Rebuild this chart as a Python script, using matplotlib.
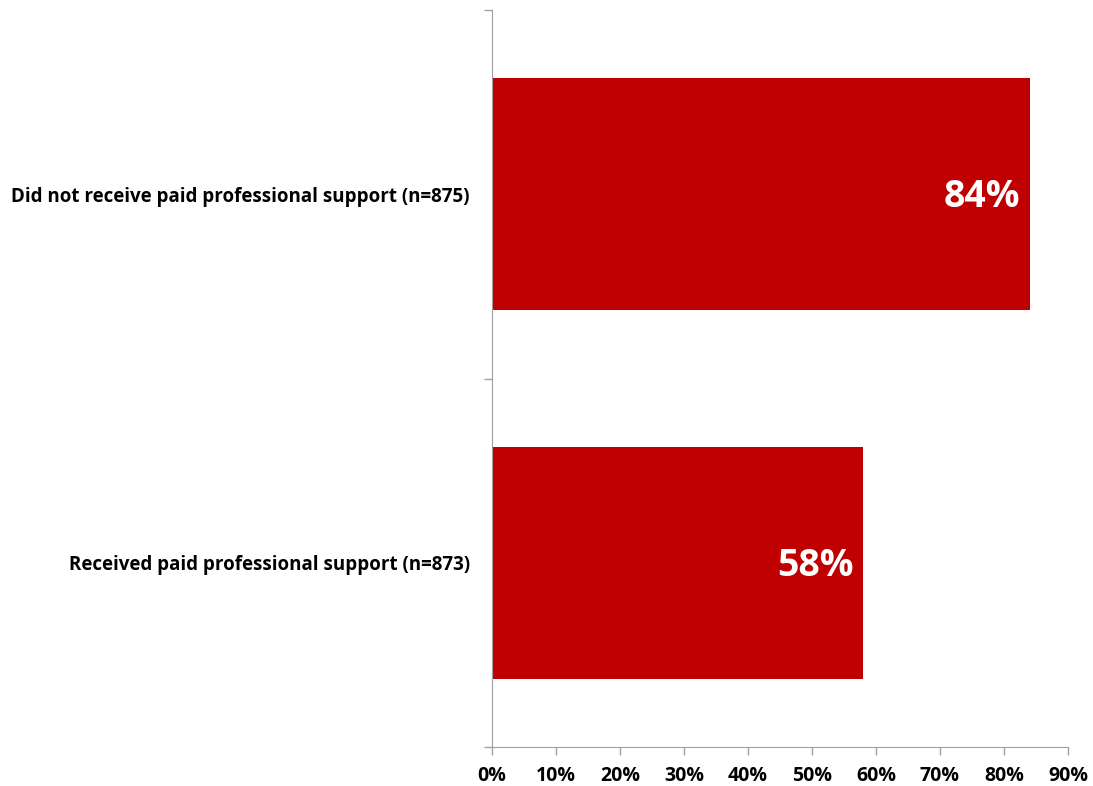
import matplotlib.pyplot as plt
from matplotlib.ticker import PercentFormatter

plt.rcParams['font.family'] = ['Open Sans', 'DejaVu Sans']

categories = ['Received paid professional support (n=873)',
              'Did not receive paid professional support (n=875)']
values = [58, 84]
x_ticks = list(range(0, 100, 10))

bar_color = '#C00000'
axis_color = '#A0A0A0'

fig = plt.figure(figsize=(10.93, 7.86), dpi=100)
ax = fig.add_axes([492 / 1093, 39 / 786, 576 / 1093, 737 / 786])

pos = list(range(len(categories)))
ax.barh(pos, values, height=0.63, color=bar_color)

# value labels sit inside the bar end
for y, v in zip(pos, values):
    ax.annotate(f'{v}%', xy=(v, y), xytext=(-7, -2), textcoords='offset points',
                ha='right', va='center', color='white', fontsize=27, fontweight='bold')

ax.set_xlim(0, 90)
ax.set_ylim(-0.5, len(categories) - 0.5)
ax.set_xticks(x_ticks)
ax.xaxis.set_major_formatter(PercentFormatter(decimals=0))
ax.set_yticks([-0.5, 0.5, 1.5], minor=False)
ax.set_yticklabels([])
ax.set_yticks(pos, minor=True)
ax.set_yticklabels(categories, minor=True)

ax.tick_params(axis='y', which='major', length=6, color=axis_color, width=1)
ax.tick_params(axis='y', which='minor', length=0, pad=16, labelsize=13.5)
ax.tick_params(axis='x', length=6, color=axis_color, width=1, labelsize=14, pad=8)
for lbl in ax.get_xticklabels() + ax.get_yticklabels(minor=True):
    lbl.set_fontweight('bold')

for side in ['top', 'right']:
    ax.spines[side].set_visible(False)
for side in ['left', 'bottom']:
    ax.spines[side].set_color(axis_color)

fig.savefig('out.png', dpi=100)
